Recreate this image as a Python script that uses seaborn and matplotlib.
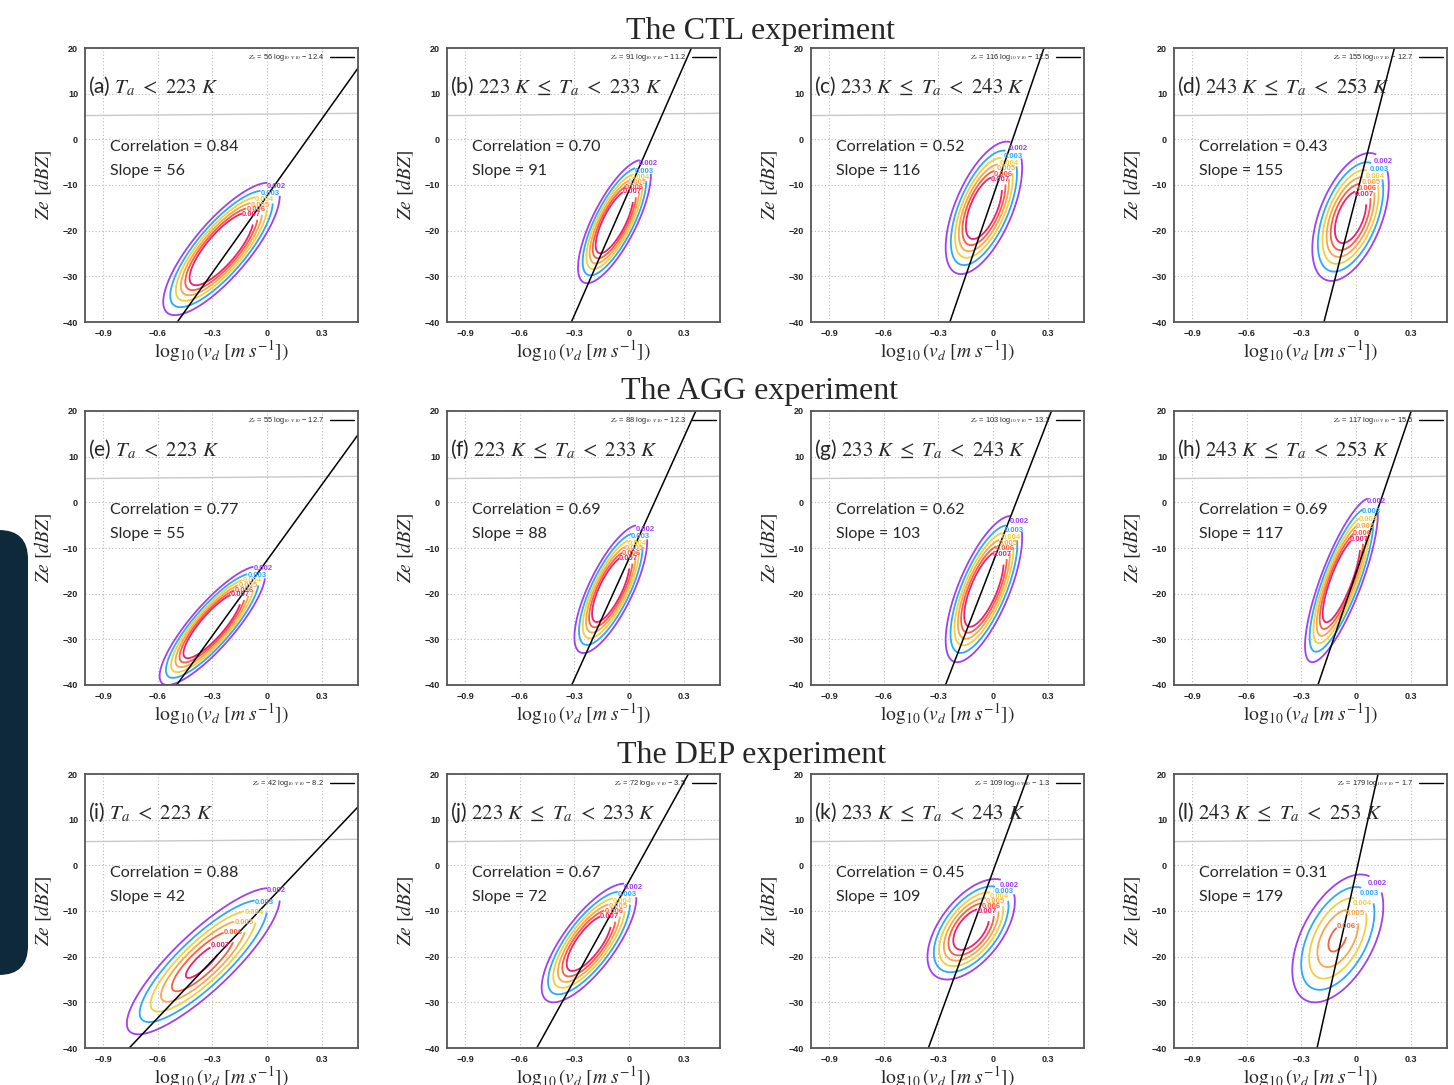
import numpy as np
import pandas as pd
import matplotlib
matplotlib.use("Agg")
import matplotlib.pyplot as plt
from matplotlib.patches import FancyBboxPatch
from matplotlib.lines import Line2D
import seaborn as sns

sns.set_style("white")
plt.rcParams['font.family'] = ['Liberation Sans', 'DejaVu Sans']
plt.rcParams['mathtext.fontset'] = 'stix'
plt.rcParams['axes.unicode_minus'] = True

# ---------------- data ----------------
experiments = ["CTL", "AGG", "DEP"]
letters = list("abcdefghijkl")
conditions = [r"$T_a\ <\ 223\ K$",
              r"$223\ K\ \leq\ T_a\ <\ 233\ K$",
              r"$233\ K\ \leq\ T_a\ <\ 243\ K$",
              r"$243\ K\ \leq\ T_a\ <\ 253\ K$"]
correlation = [0.84, 0.70, 0.52, 0.43, 0.77, 0.69, 0.62, 0.69, 0.88, 0.67, 0.45, 0.31]
slope = [56, 91, 116, 155, 55, 88, 103, 117, 42, 72, 109, 179]
intercept = [-12.4, -11.2, -12.5, -12.7, -12.7, -12.3, -13.1, -15.5, -8.2, -3.5, -1.3, -1.7]

# joint-density shape per panel (centre, outer-contour half extents, tilt, peak)
dens_cx = [-0.25, -0.08, -0.05, -0.03, -0.30, -0.10, -0.05, -0.08, -0.35, -0.22, -0.12, -0.10]
dens_cy = [-24, -18, -15, -17, -27, -19, -19, -17, -21, -17, -14, -16]
dens_hx = [0.32, 0.20, 0.21, 0.21, 0.29, 0.20, 0.21, 0.20, 0.42, 0.26, 0.24, 0.25]
dens_hy = [14.5, 13.5, 14.5, 14.0, 13.0, 14.0, 16.0, 18.0, 16.0, 13.0, 11.0, 14.0]
dens_rho = [0.80, 0.75, 0.60, 0.50, 0.85, 0.75, 0.70, 0.80, 0.85, 0.75, 0.55, 0.50]
dens_peak = [0.012, 0.011, 0.010, 0.009, 0.012, 0.011, 0.011, 0.011, 0.0075, 0.010, 0.009, 0.0063]

levels = [0.002, 0.003, 0.004, 0.005, 0.006, 0.007]
level_colors = ['#a040f0', '#30a8f8', '#f0d040', '#f8a848', '#f86040', '#f02070']

gray_x = [-1.0, 0.5]
gray_y = [5.2, 5.7]

xticks = [-0.9, -0.6, -0.3, 0, 0.3]
xticklabels = ["\u22120.9", "\u22120.6", "\u22120.3", "0", "0.3"]
yticks = [-40, -30, -20, -10, 0, 10, 20]
yticklabels = ["\u221240", "\u221230", "\u221220", "\u221210", "0", "10", "20"]

# ---------------- layout ----------------
W, H = 1454, 1085
fig = plt.figure(figsize=(W / 100, H / 100), dpi=100)
left_px = [85, 447, 811, 1174]
top_px = [48, 411, 774]
aw, ah = 273, 274
title_pos = [(760, 32), (760, 392), (752, 755)]

# dark slide artifact on the left edge
patch = FancyBboxPatch((-30 / W, 1 - 975 / H), 58 / W, 445 / H,
                       boxstyle="round,pad=0,rounding_size=0.02",
                       mutation_aspect=W / H,
                       transform=fig.transFigure, facecolor='#0e2a3a',
                       edgecolor='none', zorder=0)
fig.patches.append(patch)

gx = np.linspace(-1.0, 0.5, 400)
gy = np.linspace(-40, 20, 400)
GX, GY = np.meshgrid(gx, gy)

for r in range(3):
    tx, ty = title_pos[r]
    fig.text(tx / W, 1 - ty / H, f"The {experiments[r]} experiment",
             ha='center', va='center', fontsize=23, family='Liberation Serif')
    for c in range(4):
        i = r * 4 + c
        ax = fig.add_axes([left_px[c] / W, 1 - (top_px[r] + ah) / H, aw / W, ah / H])
        ax.set_xlim(-1.0, 0.5)
        ax.set_ylim(-40, 20)
        ax.set_xticks(xticks)
        ax.set_xticklabels(xticklabels)
        ax.set_yticks(yticks)
        ax.set_yticklabels(yticklabels)
        ax.grid(True, linestyle=(0, (1, 2)), color='#bbbbbb', linewidth=0.8)
        ax.tick_params(axis='both', direction='out', length=3, width=0.8,
                       colors='#333333', labelsize=6.5, pad=2)
        for lab in ax.get_xticklabels() + ax.get_yticklabels():
            lab.set_fontweight('bold')
            lab.set_color('#222222')
        for s in ax.spines.values():
            s.set_color('#555555')
            s.set_linewidth(1.3)

        # gray reference line
        sns.lineplot(x=gray_x, y=gray_y, ax=ax, color='#c8c8c8', linewidth=1.0,
                     legend=False)

        # density contours
        P = dens_peak[i]
        rho = dens_rho[i]
        c_out = 2 * np.log(P / levels[0])
        sx = dens_hx[i] / np.sqrt(c_out)
        sy = dens_hy[i] / np.sqrt(c_out)
        dx = (GX - dens_cx[i]) / sx
        dy = (GY - dens_cy[i]) / sy
        Q = (dx ** 2 - 2 * rho * dx * dy + dy ** 2) / (1 - rho ** 2)
        Z = P * np.exp(-0.5 * Q)
        use_lv = [lv for lv in levels if lv < P]
        use_col = [level_colors[k] for k, lv in enumerate(levels) if lv < P]
        cs = ax.contour(GX, GY, Z, levels=use_lv, colors=use_col, linewidths=1.3)
        pts = []
        for lv in use_lv:
            cc = 2 * np.log(P / lv)
            t = np.sqrt(cc * (1 + rho) / 2)
            pts.append((dens_cx[i] + t * sx, dens_cy[i] + t * sy))
        try:
            labs = ax.clabel(cs, inline=True, fontsize=5.5, fmt='%.3f', manual=pts,
                             inline_spacing=1)
            for tl in labs:
                tl.set_rotation(0)
                tl.set_fontweight('bold')
        except Exception:
            pass

        # fit line
        fit_x = np.array([-1.0, 0.5])
        fit_df = pd.DataFrame({"x": fit_x, "y": slope[i] * fit_x + intercept[i]})
        sns.lineplot(data=fit_df, x="x", y="y", ax=ax, color='black',
                     linewidth=1.1, legend=False)
        ax.set_xlim(-1.0, 0.5)
        ax.set_ylim(-40, 20)

        leg_label = (r"$Z_e$ = " + f"{slope[i]}" + r" log$_{10}$ $v_{10}$ " +
                     "\u2212 " + f"{abs(intercept[i])}")
        ax.legend([Line2D([0], [0], color='black', lw=1.0)], [leg_label],
                  loc='upper right', fontsize=5.3, frameon=False,
                  handlelength=3.2, borderaxespad=0.2, markerfirst=False)

        ax.text(-0.985, 11.5, f"({letters[i]}) " + conditions[c], fontsize=15,
                family='Lato', ha='left', va='center')
        ax.text(-0.86, -1.6, f"Correlation = {correlation[i]:.2f}", fontsize=11.5,
                family='Lato', ha='left', va='center')
        ax.text(-0.86, -6.9, f"Slope = {slope[i]}", fontsize=11.5,
                family='Lato', ha='left', va='center')

        ax.set_xlabel(r"$\log_{10}(v_d\ [m\ s^{-1}])$", fontsize=14, labelpad=0)
        ax.set_ylabel(r"$Ze\ [dBZ]$", fontsize=14, labelpad=6)

fig.savefig("out.png", dpi=100)
